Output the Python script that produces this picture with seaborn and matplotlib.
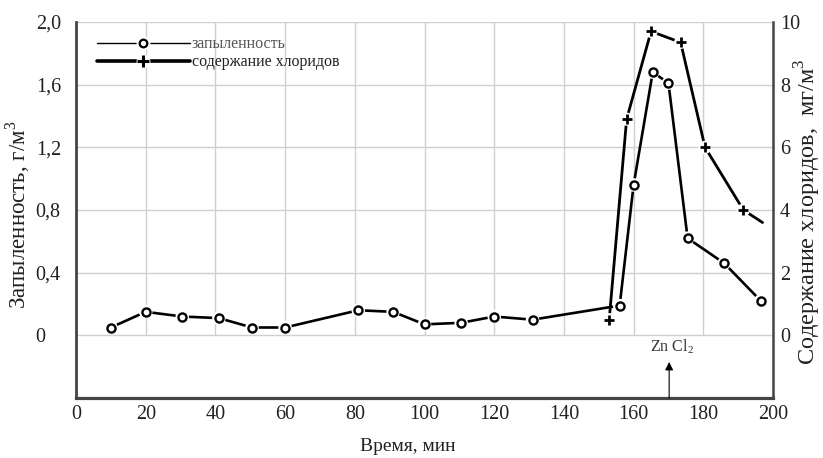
import matplotlib
matplotlib.use("Agg")
import matplotlib.pyplot as plt
from matplotlib.lines import Line2D
import seaborn as sns
import pandas as pd

# Данные
time_dust = [10, 20, 30.5, 41, 50.5, 60, 81, 91, 100, 110.5, 120, 131,
             156, 160, 165.5, 170, 175.5, 186, 196.5]
dust = [0.05, 0.15, 0.12, 0.11, 0.05, 0.05, 0.16, 0.15, 0.07, 0.08, 0.12, 0.10,
        0.19, 0.96, 1.68, 1.61, 0.62, 0.46, 0.22]

time_chlor = [153, 158, 165, 173.5, 180.5, 191.5, 197]
chlor = [0.5, 6.9, 9.7, 9.35, 6.0, 4.0, 3.6]

x_ticks = [0, 20, 40, 60, 80, 100, 120, 140, 160, 180, 200]
y_left_ticks = [0, 0.4, 0.8, 1.2, 1.6, 2.0]
y_left_labels = ['0', '0,4', '0,8', '1,2', '1,6', '2,0']
y_right_ticks = [0, 2, 4, 6, 8, 10]

df_dust = pd.DataFrame({'t': time_dust, 'v': dust})
df_chlor = pd.DataFrame({'t': time_chlor, 'v': chlor})

sns.set_style("white")
plt.rcParams['font.family'] = ['Liberation Serif', 'DejaVu Serif']
plt.rcParams['mathtext.fontset'] = 'custom'
plt.rcParams['mathtext.rm'] = 'Liberation Serif'
txt = '#222222'
grid_c = '#cfcfcf'
tick_fs = 14.5

fig = plt.figure(figsize=(8.23, 4.58), dpi=100)
ax = fig.add_axes([76 / 823, 1 - 398 / 458, 697 / 823, 376 / 458])
ax2 = ax.twinx()

ax.set_xlim(0, 200)
ax.set_ylim(-0.4, 2.0)
ax2.set_ylim(-2, 10)

# сетка: горизонтальные линии по всей ширине, вертикальные только выше нуля
ax.hlines(y_left_ticks, 0, 200, color=grid_c, lw=1, zorder=0)
ax.vlines(x_ticks[1:-1], 0, 2.0, color=grid_c, lw=1, zorder=0)

# запыленность
sns.lineplot(data=df_dust, x='t', y='v', ax=ax, color='black', lw=1.9, zorder=2)
sns.scatterplot(data=df_dust, x='t', y='v', ax=ax, color='white', s=95,
                edgecolor='none', zorder=3)
sns.scatterplot(data=df_dust, x='t', y='v', ax=ax, marker='o', s=34,
                facecolor='white', edgecolor='black', linewidth=1.7, zorder=4)

# содержание хлоридов
sns.lineplot(data=df_chlor, x='t', y='v', ax=ax2, color='black', lw=2.0, zorder=2)
sns.scatterplot(data=df_chlor.iloc[:-1], x='t', y='v', ax=ax2, color='white', s=90,
                edgecolor='none', zorder=3)
sns.scatterplot(data=df_chlor.iloc[:-1], x='t', y='v', ax=ax2, marker='+', s=60,
                color='black', linewidth=2.0, zorder=4)

# оси
ax.set_xticks(x_ticks)
ax.set_yticks(y_left_ticks)
ax.set_yticklabels(y_left_labels)
ax2.set_yticks(y_right_ticks)
ax.tick_params(axis='x', length=0, pad=5, labelsize=tick_fs, labelcolor=txt)
ax.tick_params(axis='y', length=0, pad=29, labelsize=tick_fs, labelcolor=txt)
for lab in ax.get_yticklabels():
    lab.set_ha('left')
ax2.tick_params(axis='y', length=0, pad=5, labelsize=tick_fs, labelcolor=txt)

ax.spines['top'].set_visible(False)
ax2.spines['top'].set_visible(False)
ax2.spines['left'].set_visible(False)
ax2.spines['bottom'].set_visible(False)
ax.spines['right'].set_visible(False)
ax.spines['left'].set_linewidth(2.0)
ax.spines['left'].set_color('#444444')
ax.spines['bottom'].set_linewidth(2.3)
ax.spines['bottom'].set_color('#444444')
ax2.spines['right'].set_linewidth(1.8)
ax2.spines['right'].set_color('#444444')

ax.set_xlabel('Время, мин', fontsize=14, color=txt, va='center')
ax.xaxis.set_label_coords(0.476, -0.128)
ax.set_ylabel('Запыленность, г/м$^3$', fontsize=16.5, color=txt, va='center')
ax.yaxis.set_label_coords(-0.083, 0.488)
ax2.set_ylabel('Содержание хлоридов,  мг/м$^3$', fontsize=17.5, color=txt,
               rotation=90, va='center')
ax2.yaxis.set_label_coords(1.05, 0.495)

# отметка ZnCl2
ax.annotate('', xy=(170.2, -0.17), xytext=(170.2, -0.4),
            arrowprops=dict(arrowstyle='-|>', color='black', lw=0.8,
                            mutation_scale=12, shrinkA=0, shrinkB=0))
ax.text(171, -0.075, 'Zn Cl$_2$', fontsize=11.5, color='#333333',
        ha='center', va='center')

# легенда
h_dust = (Line2D([], [], color='black', lw=1.0),
          Line2D([], [], ls='none', marker='o', ms=9, mfc='white', mec='white'),
          Line2D([], [], ls='none', marker='o', ms=5.5, mfc='white', mec='black', mew=1.6))
h_chlor = (Line2D([], [], color='black', lw=2.6),
           Line2D([], [], ls='none', marker='o', ms=9, mfc='white', mec='white'),
           Line2D([], [], ls='none', marker='+', ms=8, mec='black', mew=2.2))
leg = ax2.legend([h_dust, h_chlor], ['запыленность', 'содержание хлоридов'],
                 loc='upper left', bbox_to_anchor=(0.030, 0.962), frameon=False,
                 borderpad=0, borderaxespad=0, handlelength=5.8, handletextpad=0.15,
                 labelspacing=0.12, fontsize=11.5)
leg.get_texts()[0].set_color('#555555')
leg.get_texts()[1].set_color(txt)

ax.set_zorder(ax2.get_zorder() - 1)
ax2.patch.set_visible(False)

fig.savefig('out.png', dpi=100)
